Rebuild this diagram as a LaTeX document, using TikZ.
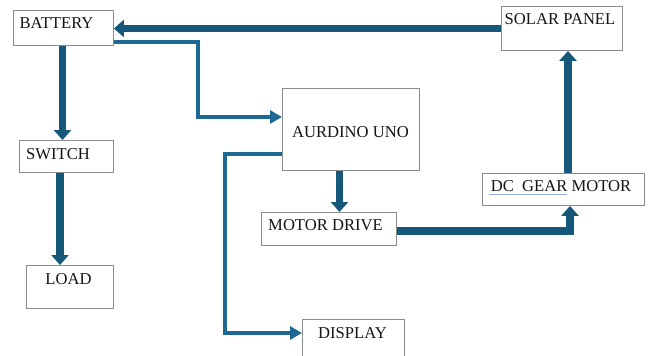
\documentclass[tikz,border=0pt]{standalone}
\usepackage{fontspec}
\setmainfont{Liberation Serif}
\usetikzlibrary{arrows.meta}
\definecolor{thickblue}{RGB}{21,88,122}
\definecolor{thinblue}{RGB}{30,105,148}
\definecolor{boxgray}{RGB}{140,140,140}
\definecolor{spell}{RGB}{150,175,230}
\begin{document}
\begin{tikzpicture}[x=1pt,y=-1pt,
  box/.style={draw=boxgray, line width=0.9pt, inner sep=0pt, anchor=north west},
  txt/.style={inner sep=0pt, font=\fontsize{16.6}{19}\selectfont, text=black!92},
  fat/.style={draw=thickblue, line width=7.5pt, miter limit=10,
    -{Triangle[width=17pt,length=10pt]}},
  slim/.style={draw=thinblue, line width=4pt, miter limit=10,
    -{Triangle[width=13pt,length=12pt]}}]
\useasboundingbox (0,0) rectangle (651,356);
\fill[white] (0,0) rectangle (651,356);
\clip (0,0) rectangle (651,356);
% boxes
\node[box, minimum width=100pt, minimum height=35pt] (bat) at (13,10) {};
\node[box, minimum width=94pt, minimum height=32pt] (sw) at (19,140) {};
\node[box, minimum width=87pt, minimum height=43pt] (load) at (26,265) {};
\node[box, minimum width=137pt, minimum height=82pt] (aur) at (282,88) {};
\node[box, minimum width=135pt, minimum height=33pt] (md) at (261,212) {};
\node[box, minimum width=162pt, minimum height=32pt] (dc) at (482,173) {};
\node[box, minimum width=121pt, minimum height=44pt] (sol) at (501,6) {};
\node[box, minimum width=102pt, minimum height=50pt] (disp) at (302,319) {};
% texts
\node[txt] (tbat) at (56.5,23) {BATTERY};
\node[txt] (tsw) at (58,154) {SWITCH};
\node[txt] (tload) at (68.5,279) {LOAD};
\node[txt] (taur) at (350.5,132) {AURDINO UNO};
\node[txt] (tmd) at (325.5,225.5) {MOTOR DRIVE};
\node[txt] (tdc) at (561,186.5) {DC\ \ GEAR MOTOR};
\node[txt] (tsol) at (560,19) {SOLAR PANEL};
\node[txt] (tdisp) at (352.5,333.5) {DISPLAY};
\draw[spell, line width=0.9pt] (489,194) -- (567,194);
% connectors
\coordinate (b2a) at (197.5,41.5);
\coordinate (b2a2) at (197.5,117);
\coordinate (a2d) at (224.5,154);
\coordinate (a2d2) at (224.5,333);
\coordinate (m2g) at (570,231);
\draw[fat] (sol.west |- 0,28.5) -- (bat.east |- 0,28.5);
\draw[slim] (bat.east |- b2a) -- (b2a) -- (b2a2) -- (aur.west |- b2a2);
\draw[fat] (62.5,0 |- bat.south) -- (62.5,0 |- sw.north);
\draw[fat] (60,0 |- sw.south) -- (60,0 |- load.north);
\draw[slim] (aur.west |- a2d) -- (a2d) -- (a2d2) -- (disp.west |- a2d2);
\draw[fat] (339.5,0 |- aur.south) -- (339.5,0 |- md.north);
\draw[fat] (md.east |- m2g) -- (m2g) -- (m2g |- dc.south);
\draw[fat] (568,0 |- dc.north) -- (568,0 |- sol.south);
\end{tikzpicture}
\end{document}
